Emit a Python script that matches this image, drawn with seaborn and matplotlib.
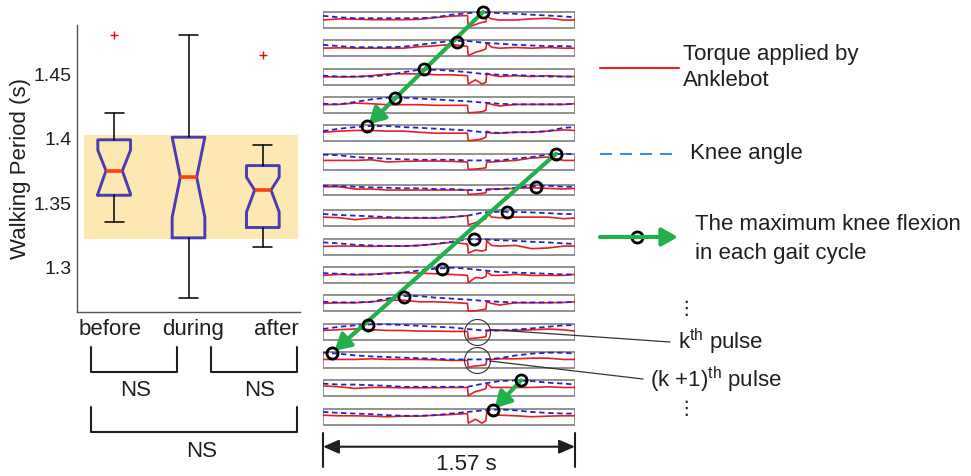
import numpy as np
import matplotlib
matplotlib.use("Agg")
import matplotlib.pyplot as plt
import seaborn as sns
from matplotlib.patches import Rectangle
from matplotlib.transforms import ScaledTranslation

# ---- box plot: walking period (s) ----
groups = ["before", "during", "after"]
q1 = [1.356, 1.323, 1.331]
q3 = [1.399, 1.401, 1.379]
medians = [1.375, 1.370, 1.360]
whis_lo = [1.335, 1.276, 1.316]
whis_hi = [1.420, 1.480, 1.395]
notch_lo = [1.357, 1.339, 1.343]
notch_hi = [1.391, 1.401, 1.370]
outliers = [[1.480], [], [1.465]]
band = [1.322, 1.403]
yticks = [1.3, 1.35, 1.4, 1.45]

# ---- gait strips (one per cycle), values scaled 0 (bottom) .. 1 (top) ----
cycle_len = 1.57
t_blue = [0, 0.1, 0.2, 0.3, 0.4, 0.5, 0.6, 0.7, 0.8, 0.9, 1.0, 1.1, 1.2, 1.3, 1.4, 1.5, 1.57]
t_red = [0, 0.1, 0.2, 0.3, 0.4, 0.5, 0.6, 0.7, 0.8, 0.9,
         0.905, 0.95, 0.99, 1.015, 1.02, 1.05,
         1.1, 1.2, 1.3, 1.4, 1.5, 1.57]

knee = [
    [.76, .67, .61, .61, .61, .61, .61, .67, .83, .93, .98, .93, .89, .83, .78, .72, .67],
    [.72, .64, .57, .57, .57, .60, .72, .85, .96, .96, .85, .79, .72, .68, .64, .64, .60],
    [.56, .51, .51, .51, .60, .78, .93, .93, .87, .78, .67, .62, .60, .56, .51, .51, .51],
    [.58, .54, .69, .85, .96, .96, .90, .85, .79, .73, .65, .58, .54, .54, .54, .54, .58],
    [.64, .79, .89, .96, .96, .89, .85, .79, .74, .68, .57, .53, .57, .57, .64, .85, .89],
    [.94, .90, .79, .73, .69, .65, .62, .62, .62, .58, .58, .58, .69, .79, .94, 1.0, .96],
    [.93, .90, .83, .77, .73, .67, .67, .60, .60, .50, .50, .60, .73, .90, .93, .83, .83],
    [.77, .71, .67, .63, .58, .54, .54, .54, .58, .67, .87, .92, .90, .87, .83, .77, .77],
    [.77, .71, .62, .58, .54, .54, .58, .67, .81, .96, .96, .90, .87, .81, .77, .71, .67],
    [.62, .58, .54, .54, .58, .65, .79, .90, .96, .90, .79, .69, .65, .62, .58, .54, .54],
    [.60, .56, .56, .60, .80, .96, .96, .86, .80, .74, .66, .60, .56, .56, .56, .56, .60],
    [.67, .81, .90, .96, .96, .92, .87, .81, .77, .67, .58, .58, .63, .71, .81, .90, .92],
    [.96, .90, .79, .73, .69, .65, .62, .58, .54, .54, .54, .62, .79, .90, .96, .96, .90],
    [.80, .74, .74, .70, .66, .60, .60, .60, .60, .60, .80, .96, 1.0, .96, .86, .80, .74],
    [.80, .74, .70, .66, .60, .56, .56, .60, .70, .80, .90, .96, .90, .80, .74, .70, .70],
]

torque = [
    [.50, .57, .55, .52, .52, .52, .54, .65, .74, .78, .04, .22, .35, .39, .72, .57, .50, .50, .57, .61, .50, .50],
    [.51, .53, .51, .51, .51, .51, .60, .66, .74, .62, .04, .26, .36, .47, .85, .57, .51, .55, .51, .55, .51, .51],
    [.49, .49, .49, .56, .67, .68, .67, .62, .62, .56, .04, .30, .05, .15, .72, .60, .51, .56, .51, .56, .51, .51],
    [.52, .54, .62, .58, .52, .52, .52, .48, .48, .48, .02, .04, .08, .17, .62, .54, .44, .54, .54, .54, .54, .58],
    [.57, .64, .68, .68, .64, .64, .57, .51, .51, .51, .04, .09, .15, .26, .64, .51, .51, .57, .57, .64, .72, .68],
    [.58, .58, .58, .62, .48, .52, .54, .54, .52, .48, .02, .04, .08, .12, .48, .48, .52, .58, .73, .79, .58, .58],
    [.83, .83, .60, .60, .50, .50, .50, .50, .50, .50, .07, .10, .17, .23, .60, .60, .60, .67, .73, .67, .60, .67],
    [.58, .54, .42, .52, .52, .52, .52, .52, .58, .67, .10, .23, .38, .48, .87, .58, .54, .58, .58, .58, .48, .52],
    [.52, .54, .54, .52, .54, .54, .58, .67, .77, .67, .10, .29, .23, .29, .87, .58, .54, .58, .38, .42, .54, .54],
    [.48, .54, .52, .54, .62, .65, .62, .58, .54, .48, .02, .35, .30, .42, .69, .48, .48, .54, .48, .48, .48, .54],
    [.50, .54, .54, .60, .70, .70, .60, .60, .56, .50, .02, .04, .10, .14, .60, .50, .40, .54, .54, .54, .56, .60],
    [.58, .63, .67, .63, .58, .58, .54, .54, .52, .52, .06, .10, .15, .19, .58, .58, .58, .58, .62, .67, .62, .54],
    [.54, .54, .54, .58, .54, .54, .54, .52, .48, .48, .06, .13, .17, .21, .54, .54, .58, .58, .62, .62, .54, .54],
    [.66, .60, .50, .56, .56, .54, .54, .54, .56, .56, .06, .30, .40, .50, .80, .56, .56, .56, .56, .60, .56, .56],
    [.60, .56, .56, .54, .50, .54, .54, .60, .64, .70, .10, .35, .10, .25, .80, .60, .60, .56, .50, .54, .56, .56],
]

# maximum knee flexion in each cycle (time in s, level 0..1)
peak_t = [0.997, 0.835, 0.630, 0.449, 0.272, 1.452, 1.327, 1.146, 0.943, 0.744, 0.505, 0.279, 0.058, 1.234, 1.057]
peak_v = [1.0, 0.89, 1.0, 0.96, 0.94, 1.0, 0.83, 0.90, 0.96, 0.90, 0.90, 0.92, 0.96, 1.0, 0.90]
arrow_runs = [(0, 4), (5, 12), (13, 14)]
pulse_rows = [11, 12]
pulse_mid = 0.957

# colours
band_color = "#fde8b4"
box_color = "#4a3db2"
med_color = "#ff3d14"
red = "#e41f26"
blue = "#2424c8"
legend_blue = "#3d8fd6"
green = "#21b04b"
ink = "#1f1f1f"

sns.set_style("white")
plt.rcParams["font.family"] = ["Liberation Sans", "DejaVu Sans"]
plt.rcParams["mathtext.fontset"] = "custom"
plt.rcParams["mathtext.rm"] = "Liberation Sans"
plt.rcParams["mathtext.it"] = "Liberation Sans:italic"

W, H = 971, 476
fig = plt.figure(figsize=(W / 100, H / 100), dpi=100)

# ---------------- box plot ----------------
ax = fig.add_axes([77 / W, 1 - 312 / H, 223 / W, 287 / H])
stats = []
for i, g in enumerate(groups):
    stats.append(dict(label=g, med=medians[i], q1=q1[i], q3=q3[i],
                      whislo=whis_lo[i], whishi=whis_hi[i],
                      cilo=notch_lo[i], cihi=notch_hi[i], fliers=outliers[i]))
pos = np.arange(len(groups))
ax.axhspan(band[0], band[1], xmin=0.031, xmax=0.991, color=band_color, lw=0, zorder=0)
ax.bxp(stats, positions=pos, widths=0.44, capwidths=0.26, shownotches=True,
       boxprops=dict(color=box_color, lw=2.1),
       medianprops=dict(color=med_color, lw=2.6),
       whiskerprops=dict(color="k", lw=1.1),
       capprops=dict(color="k", lw=1.1),
       flierprops=dict(marker="+", markeredgecolor="red", markersize=6, mew=1.0),
       zorder=2)
ax.set_xlim(-0.5, 2.5)
ax.set_ylim(1.2655, 1.488)
ax.set_yticks(yticks)
ax.set_yticklabels([f"{v:g}" for v in yticks])
ax.set_xticks(pos)
ax.set_xticklabels(groups)
sns.despine(ax=ax)
for s in ["left", "bottom"]:
    ax.spines[s].set_color("#555555")
    ax.spines[s].set_linewidth(1.0)
ax.tick_params(direction="in", length=4, width=1, color="#555555", labelcolor=ink)
ax.tick_params(axis="y", labelsize=14, pad=4)
ax.tick_params(axis="x", labelsize=16, pad=5)
ax.set_ylabel("Walking Period (s)", fontsize=16, color=ink, labelpad=2)
ax.set_facecolor("none")
for lab, dx in zip(ax.get_xticklabels(), [-4, 5, 14]):
    lab.set_transform(lab.get_transform() + ScaledTranslation(dx / 100, 0, fig.dpi_scale_trans))

# ---------------- gait strips ----------------
sx = fig.add_axes([323 / W, 0, 252 / W, 1])
sx.set_xlim(0, cycle_len)
sx.set_ylim(H, 0)
sx.axis("off")

row_pitch = 28.34
def row_center(i):
    return 20 + i * row_pitch

def row_height(i):
    return 10 if i == 6 else 16

def level_to_y(i, v):
    h = row_height(i)
    return row_center(i) + h * (0.5 - np.asarray(v))

for i in range(len(knee)):
    h = row_height(i)
    sx.add_patch(Rectangle((0, row_center(i) - h / 2), cycle_len, h,
                           facecolor="white", edgecolor="#7f7f7f", lw=1.2, zorder=1))
    sns.lineplot(x=t_red, y=level_to_y(i, torque[i]), ax=sx, color=red, lw=1.2,
                 sort=False, zorder=2)
    sns.lineplot(x=t_blue, y=level_to_y(i, knee[i]), ax=sx, color=blue, lw=1.3,
                 linestyle=(0, (3, 2)), sort=False, zorder=3)

peak_y = [level_to_y(i, peak_v[i]) for i in range(len(peak_t))]
for a, b in arrow_runs:
    sx.annotate("", xy=(peak_t[b], peak_y[b]), xytext=(peak_t[a], peak_y[a]),
                arrowprops=dict(arrowstyle="-|>,head_length=0.8,head_width=0.45",
                                color=green, lw=3, mutation_scale=12,
                                shrinkA=0, shrinkB=2), zorder=4)
sx.plot(peak_t, peak_y, "o", ms=8, mfc="none", mec="black", mew=2, zorder=5, clip_on=False)

for r in pulse_rows:
    sx.plot([pulse_mid], [row_center(r)], "o", ms=18.7, mfc="none", mec="#333333",
            mew=0.8, zorder=6, clip_on=False)

# scale bar
for xv in [0, cycle_len]:
    sx.plot([xv, xv], [433, 467], color=ink, lw=1.5, clip_on=False)
sx.annotate("", xy=(cycle_len, 446.7), xytext=(0, 446.7),
            arrowprops=dict(arrowstyle="<|-|>,head_length=0.8,head_width=0.35",
                            color=ink, lw=1.5, mutation_scale=12, shrinkA=0, shrinkB=0))
sx.text(0.891, 465, "1.57 s", ha="center", va="center", fontsize=16, color=ink)

# ---------------- overlay (brackets, legend, labels) in pixels ----------------
ov = fig.add_axes([0, 0, 1, 1])
ov.set_xlim(0, W)
ov.set_ylim(H, 0)
ov.axis("off")
ov.set_facecolor("none")

for x0, x1, y0, y1 in [(90.7, 177, 346.7, 371.7), (211, 296.7, 346.7, 371.7), (90.7, 296.7, 406.7, 431.7)]:
    ov.plot([x0, x0, x1, x1], [y0, y1, y1, y0], color=ink, lw=1.5)
for x, y in [(136, 390), (260, 390), (201.7, 451.7)]:
    ov.text(x, y, "NS", ha="center", va="center", fontsize=16, color=ink)

# legend
ov.plot([600, 679], [68, 68], color=red, lw=1.5)
ov.text(683, 67.5, "Torque applied by\nAnklebot", ha="left", va="center", fontsize=16,
        color=ink, linespacing=1.35)
ov.plot([600, 679], [154, 154], color=legend_blue, lw=1.5, dashes=[5.8, 3.8])
ov.text(690, 154, "Knee angle", ha="left", va="center", fontsize=16, color=ink)
ov.annotate("", xy=(678, 237), xytext=(600, 237),
            arrowprops=dict(arrowstyle="-|>,head_length=0.8,head_width=0.45",
                            color=green, lw=3, mutation_scale=12, shrinkA=0, shrinkB=0))
ov.plot([637], [237], "o", ms=8, mfc="none", mec="black", mew=2)
ov.text(695, 239, "The maximum knee flexion\nin each gait cycle", ha="left", va="center",
        fontsize=16, color=ink, linespacing=1.5)

# pulse call-outs
ov.plot([489.5, 670], [329.5, 342], color="#333333", lw=0.9)
ov.plot([489.5, 643], [361, 379], color="#333333", lw=0.9)
ov.text(678, 342, r"k$^{\rm th}$ pulse", ha="left", va="center", fontsize=16, color=ink)
ov.text(650, 380, r"(k +1)$^{\rm th}$ pulse", ha="left", va="center", fontsize=16, color=ink)
for y in [309, 408]:
    ov.text(686, y, "\u22ee", ha="center", va="center", fontsize=14, color=ink,
            family=["DejaVu Sans"])

fig.savefig("out.png", dpi=100)
